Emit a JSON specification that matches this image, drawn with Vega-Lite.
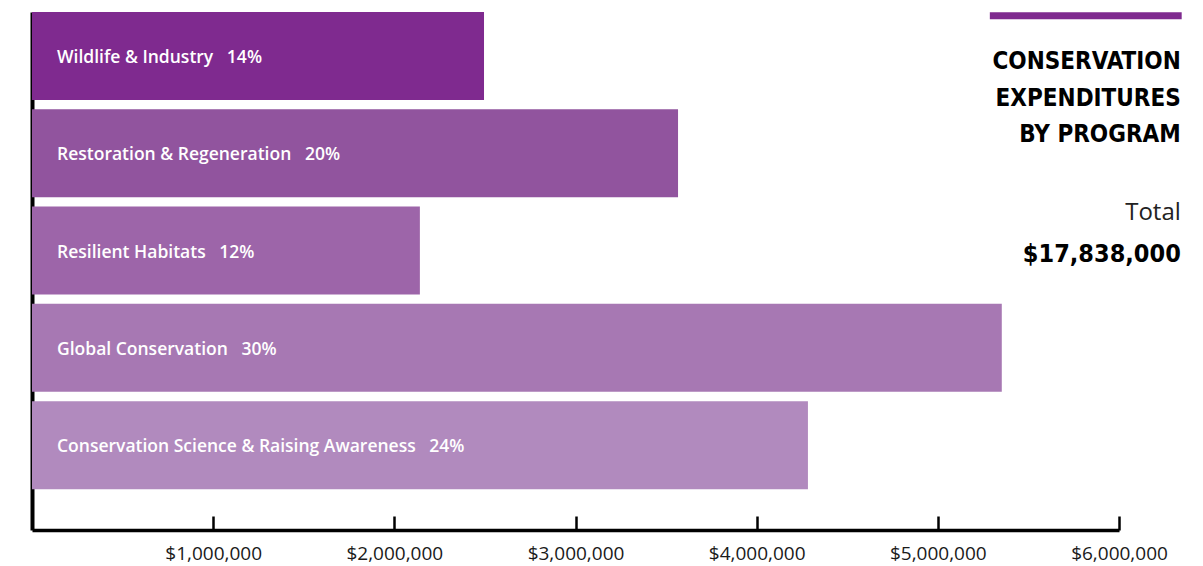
{
  "$schema": "https://vega.github.io/schema/vega-lite/v6.json",
  "width": 1087,
  "height": 518,
  "autosize": {"type": "none"},
  "padding": {"left": 32, "top": 12, "right": 84, "bottom": 36},
  "background": "white",
  "config": {"view": {"stroke": null}},
  "data": {
    "values": [
      {"program": "Wildlife & Industry", "amount": 2495000, "pct": 14},
      {"program": "Restoration & Regeneration", "amount": 3566000, "pct": 20},
      {"program": "Resilient Habitats", "amount": 2141000, "pct": 12},
      {"program": "Global Conservation", "amount": 5353000, "pct": 30},
      {"program": "Conservation Science & Raising Awareness", "amount": 4283000, "pct": 24}
    ]
  },
  "layer": [
    {
      "mark": {"type": "bar"},
      "encoding": {
        "y": {
          "field": "program",
          "type": "nominal",
          "sort": null,
          "scale": {
            "domain": ["Wildlife & Industry", "Restoration & Regeneration", "Resilient Habitats", "Global Conservation", "Conservation Science & Raising Awareness"],
            "paddingInner": 0.0956,
            "paddingOuter": 0.21,
            "align": 0
          },
          "axis": {"domain": true, "domainColor": "#000000", "domainWidth": 4, "ticks": false, "labels": false, "title": null, "grid": false}
        },
        "x": {
          "field": "amount",
          "type": "quantitative",
          "scale": {"domain": [0, 6000000], "nice": false, "zero": true},
          "axis": {
            "values": [1000000, 2000000, 3000000, 4000000, 5000000, 6000000],
            "format": "$,.0f",
            "domain": true,
            "domainColor": "#000000",
            "domainWidth": 3.5,
            "ticks": true,
            "tickColor": "#000000",
            "tickWidth": 2.5,
            "tickSize": -14,
            "labelFont": "Open Sans",
            "labelFontSize": 19,
            "labelColor": "#1a1a1a",
            "labelPadding": 28,
            "labelFlush": false,
            "grid": false,
            "title": null
          }
        },
        "color": {
          "field": "program",
          "type": "nominal",
          "scale": {
            "domain": ["Wildlife & Industry", "Restoration & Regeneration", "Resilient Habitats", "Global Conservation", "Conservation Science & Raising Awareness"],
            "range": ["#7f2a8f", "#91549e", "#9d65a9", "#a778b3", "#b18abe"]
          },
          "legend": null
        }
      }
    },
    {
      "mark": {
        "type": "text",
        "align": "left",
        "baseline": "middle",
        "dx": 25,
        "dy": 2,
        "font": "Open Sans",
        "fontSize": 17.5,
        "fontWeight": 600,
        "color": "#ffffff",
        "text": {"expr": "datum.program + '\u00a0\u00a0\u00a0' + datum.pct + '%'"}
      },
      "encoding": {
        "y": {"field": "program", "type": "nominal", "sort": null},
        "x": {"datum": 0}
      }
    },
    {
      "data": {"values": [{"item": "accent"}]},
      "mark": {"type": "rule", "color": "#7f2a8f", "strokeWidth": 7},
      "encoding": {
        "x": {"datum": 5287000},
        "x2": {"datum": 6346000},
        "y": {"value": 3.7}
      }
    },
    {
      "data": {"values": [{"item": "heading"}]},
      "mark": {
        "type": "text",
        "text": ["CONSERVATION", "EXPENDITURES", "BY PROGRAM"],
        "align": "right",
        "baseline": "alphabetic",
        "font": "DejaVu Sans Condensed",
        "fontWeight": "bold",
        "fontSize": 24,
        "lineHeight": 36.3,
        "color": "#000000"
      },
      "encoding": {
        "x": {"datum": 6341000},
        "y": {"value": 57.3}
      }
    },
    {
      "data": {"values": [{"item": "total"}]},
      "mark": {
        "type": "text",
        "text": "Total",
        "align": "right",
        "baseline": "alphabetic",
        "font": "Open Sans",
        "fontSize": 24,
        "color": "#222222"
      },
      "encoding": {
        "x": {"datum": 6341000},
        "y": {"value": 208}
      }
    },
    {
      "data": {"values": [{"item": "amount"}]},
      "mark": {
        "type": "text",
        "text": "$17,838,000",
        "align": "right",
        "baseline": "alphabetic",
        "font": "DejaVu Sans Condensed",
        "fontWeight": "bold",
        "fontSize": 25,
        "color": "#000000"
      },
      "encoding": {
        "x": {"datum": 6341000},
        "y": {"value": 250}
      }
    }
  ]
}
